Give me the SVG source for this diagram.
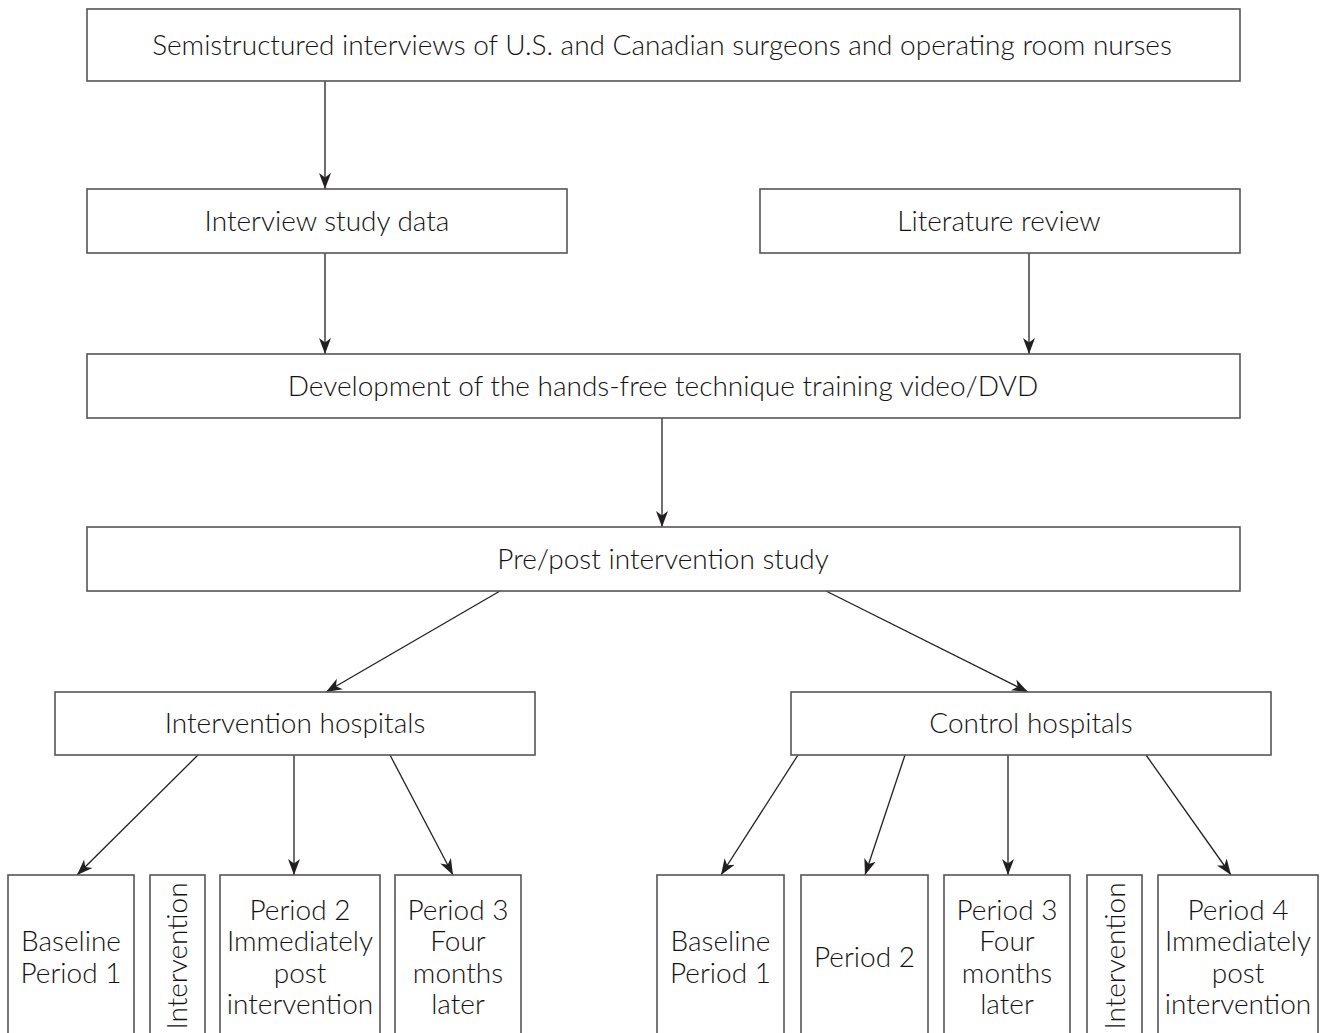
<svg xmlns="http://www.w3.org/2000/svg" width="1324" height="1033" viewBox="0 0 1324 1033">
<style>
.box{fill:#fff;stroke:#555;stroke-width:1.6}
.t{font-family:Lato,"Open Sans","DejaVu Sans",sans-serif;font-size:28px;font-weight:300;fill:#141213;text-anchor:middle}
.c{stroke:#231f20;stroke-width:1.3;fill:none;marker-end:url(#ah)}
</style>
<defs>
<marker id="ah" markerUnits="userSpaceOnUse" markerWidth="17" markerHeight="13" refX="16" refY="6.5" orient="auto">
<path d="M0,0.5 L16,6.5 L0,12.5 L4.5,6.5 z" fill="#231f20"/>
</marker>
</defs>
<rect width="1324" height="1033" fill="#fff"/>
<g id="connectors">
<line class="c" x1="325" y1="81" x2="325" y2="189"/>
<line class="c" x1="325" y1="253" x2="325" y2="354"/>
<line class="c" x1="1029" y1="253" x2="1029" y2="354"/>
<line class="c" x1="662" y1="418" x2="662" y2="527"/>
<line class="c" x1="500" y1="591" x2="326" y2="692"/>
<line class="c" x1="826" y1="591" x2="1028" y2="692"/>
<line class="c" x1="198" y1="755" x2="77" y2="875"/>
<line class="c" x1="294" y1="755" x2="294" y2="875"/>
<line class="c" x1="390" y1="755" x2="453" y2="875"/>
<line class="c" x1="798" y1="755" x2="721" y2="875"/>
<line class="c" x1="905" y1="755" x2="865" y2="875"/>
<line class="c" x1="1008" y1="755" x2="1008" y2="875"/>
<line class="c" x1="1146" y1="755" x2="1231" y2="875"/>
</g>
<g id="n-interviews"><rect class="box" x="87" y="9" width="1153" height="72"/><text class="t" x="662" y="55">Semistructured interviews of U.S. and Canadian surgeons and operating room nurses</text></g>
<g id="n-interviewdata"><rect class="box" x="87" y="189" width="480" height="64"/><text class="t" x="327" y="231">Interview study data</text></g>
<g id="n-literature"><rect class="box" x="760" y="189" width="480" height="64"/><text class="t" x="999" y="231">Literature review</text></g>
<g id="n-development"><rect class="box" x="87" y="354" width="1153" height="64"/><text class="t" x="663" y="396">Development of the hands-free technique training video/DVD</text></g>
<g id="n-prepost"><rect class="box" x="87" y="527" width="1153" height="64"/><text class="t" x="663" y="569">Pre/post intervention study</text></g>
<g id="n-inthosp"><rect class="box" x="55" y="692" width="480" height="63"/><text class="t" x="295" y="733">Intervention hospitals</text></g>
<g id="n-ctrlhosp"><rect class="box" x="791" y="692" width="480" height="63"/><text class="t" x="1031" y="733">Control hospitals</text></g>
<g id="n-i-base"><rect class="box" x="8" y="875" width="126" height="170"/><text class="t" x="71" y="951">Baseline</text><text class="t" x="71" y="983">Period 1</text></g>
<g id="n-i-int"><rect class="box" x="150" y="875" width="55" height="170"/><text class="t" transform="translate(187,956) rotate(-90)">Intervention</text></g>
<g id="n-i-p2"><rect class="box" x="220" y="875" width="160" height="170"/><text class="t" x="300" y="920">Period 2</text><text class="t" x="300" y="951">Immediately</text><text class="t" x="300" y="983">post</text><text class="t" x="300" y="1014">intervention</text></g>
<g id="n-i-p3"><rect class="box" x="395" y="875" width="126" height="170"/><text class="t" x="458" y="920">Period 3</text><text class="t" x="458" y="951">Four</text><text class="t" x="458" y="983">months</text><text class="t" x="458" y="1014">later</text></g>
<g id="n-c-base"><rect class="box" x="657" y="875" width="127" height="170"/><text class="t" x="720.5" y="951">Baseline</text><text class="t" x="720.5" y="983">Period 1</text></g>
<g id="n-c-p2"><rect class="box" x="801" y="875" width="127" height="170"/><text class="t" x="864.5" y="967">Period 2</text></g>
<g id="n-c-p3"><rect class="box" x="944" y="875" width="126" height="170"/><text class="t" x="1007" y="920">Period 3</text><text class="t" x="1007" y="951">Four</text><text class="t" x="1007" y="983">months</text><text class="t" x="1007" y="1014">later</text></g>
<g id="n-c-int"><rect class="box" x="1087" y="875" width="55" height="170"/><text class="t" transform="translate(1125,956) rotate(-90)">Intervention</text></g>
<g id="n-c-p4"><rect class="box" x="1158" y="875" width="160" height="170"/><text class="t" x="1238" y="920">Period 4</text><text class="t" x="1238" y="951">Immediately</text><text class="t" x="1238" y="983">post</text><text class="t" x="1238" y="1014">intervention</text></g>
</svg>
